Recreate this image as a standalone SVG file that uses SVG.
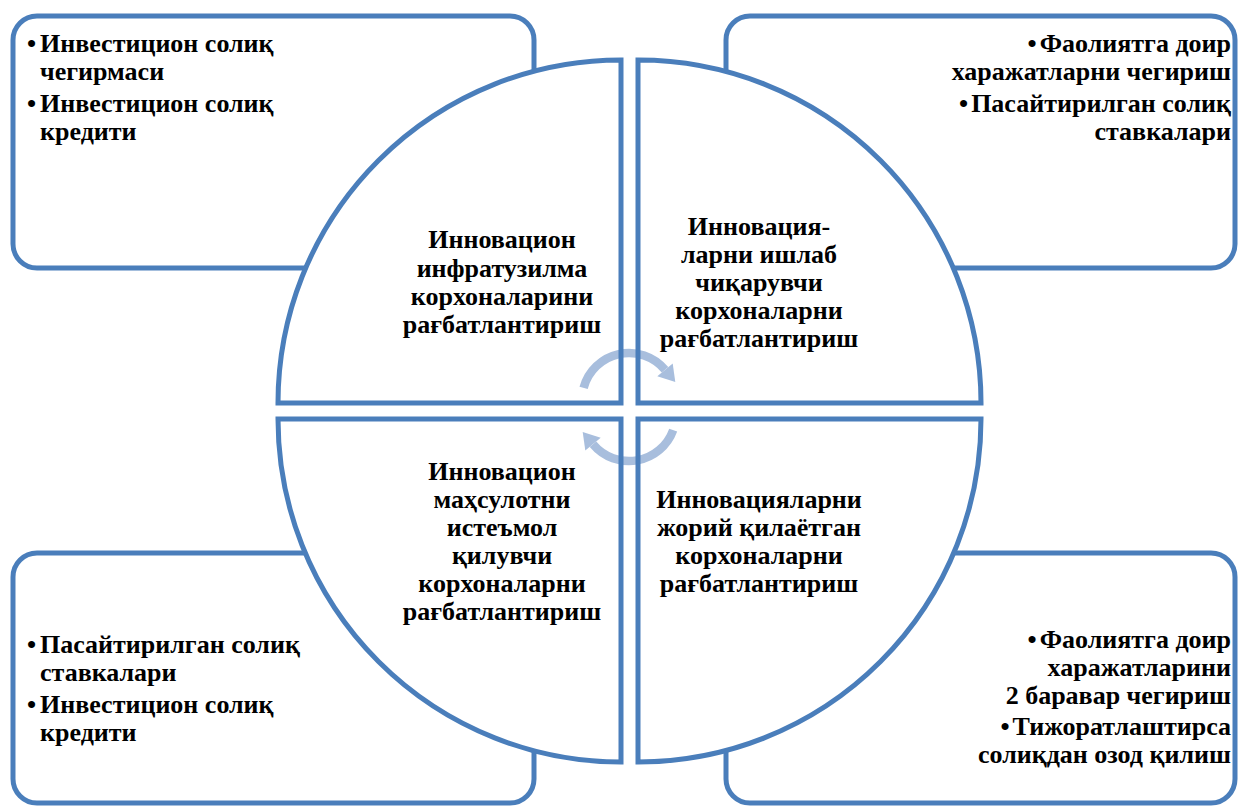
<svg xmlns="http://www.w3.org/2000/svg" width="1238" height="806" viewBox="0 0 1238 806">
<style>
.box{fill:#ffffff;stroke:#4a7ebb;stroke-width:5}
.pie{fill:#ffffff;stroke:none}
.pieline{fill:none;stroke:#4a7ebb;stroke-width:5;stroke-linejoin:miter}
.arc{fill:none;stroke:#a8bedd;stroke-width:8.5}
.head{fill:#a8bedd}
text{font-family:"Liberation Serif","Times New Roman",serif;font-weight:bold;font-size:26px;fill:#000000}
.c{text-anchor:middle}
.r{text-anchor:end}
</style>
<g id="box-tl"><rect class="box" x="13" y="16" width="521" height="252" rx="24"/></g>
<g id="box-tr"><rect class="box" x="726" y="16" width="509" height="252" rx="24"/></g>
<g id="box-bl"><rect class="box" x="13" y="553" width="521" height="250" rx="24"/></g>
<g id="box-br"><rect class="box" x="726" y="553" width="509" height="250" rx="24"/></g>
<g id="pie-fills">
<path class="pie" d="M621,403 H278 A343,343 0 0 1 621,60 Z"/>
<path class="pie" d="M638,403 V60 A343,343 0 0 1 981,403 Z"/>
<path class="pie" d="M638,419 H981 A343,343 0 0 1 638,762 Z"/>
<path class="pie" d="M621,419 V762 A343,343 0 0 1 278,419 Z"/>
</g>
<g id="connectors">
<path class="arc" d="M583.6,387.8 A47,47 0 0 1 665.0,369.8"/>
<polygon class="head" points="672.7,363.4 657.3,376.2 675.3,382.1"/>
<path class="arc" d="M673.2,430.1 A47,47 0 0 1 593.0,444.2"/>
<polygon class="head" points="600.7,437.8 585.3,450.6 582.7,431.9"/>
</g>
<g id="q-tl">
<path class="pieline" d="M621,403 H278 A343,343 0 0 1 621,60 Z"/>
<text class="c" x="502" y="248">Инновацион</text>
<text class="c" x="502" y="277">инфратузилма</text>
<text class="c" x="502" y="305">корхоналарини</text>
<text class="c" x="502" y="333">рағбатлантириш</text>
</g>
<g id="q-tr">
<path class="pieline" d="M638,403 V60 A343,343 0 0 1 981,403 Z"/>
<text class="c" x="759" y="235">Инновация-</text>
<text class="c" x="759" y="263">ларни ишлаб</text>
<text class="c" x="759" y="291">чиқарувчи</text>
<text class="c" x="759" y="319">корхоналарни</text>
<text class="c" x="759" y="347">рағбатлантириш</text>
</g>
<g id="q-br">
<path class="pieline" d="M638,419 H981 A343,343 0 0 1 638,762 Z"/>
<text class="c" x="759" y="508">Инновацияларни</text>
<text class="c" x="759" y="536">жорий қилаётган</text>
<text class="c" x="759" y="564">корхоналарни</text>
<text class="c" x="759" y="592">рағбатлантириш</text>
</g>
<g id="q-bl">
<path class="pieline" d="M621,419 V762 A343,343 0 0 1 278,419 Z"/>
<text class="c" x="502" y="480">Инновацион</text>
<text class="c" x="502" y="508">маҳсулотни</text>
<text class="c" x="502" y="536">истеъмол</text>
<text class="c" x="502" y="564">қилувчи</text>
<text class="c" x="502" y="592">корхоналарни</text>
<text class="c" x="502" y="620">рағбатлантириш</text>
</g>
<g id="text-tl">
<text x="27" y="52">•<tspan x="40">Инвестицион солиқ</tspan></text>
<text x="40" y="80">чегирмаси</text>
<text x="27" y="112">•<tspan x="40">Инвестицион солиқ</tspan></text>
<text x="40" y="140">кредити</text>
</g>
<g id="text-tr">
<text class="r" x="1231" y="52"><tspan>•</tspan><tspan dx="3">Фаолиятга доир</tspan></text>
<text class="r" x="1231" y="80">харажатларни чегириш</text>
<text class="r" x="1231" y="112"><tspan>•</tspan><tspan dx="3">Пасайтирилган солиқ</tspan></text>
<text class="r" x="1231" y="140">ставкалари</text>
</g>
<g id="text-bl">
<text x="27" y="653">•<tspan x="40">Пасайтирилган солиқ</tspan></text>
<text x="40" y="681">ставкалари</text>
<text x="27" y="713">•<tspan x="40">Инвестицион солиқ</tspan></text>
<text x="40" y="741">кредити</text>
</g>
<g id="text-br">
<text class="r" x="1231" y="648"><tspan>•</tspan><tspan dx="3">Фаолиятга доир</tspan></text>
<text class="r" x="1231" y="676">харажатларини</text>
<text class="r" x="1231" y="704">2 баравар чегириш</text>
<text class="r" x="1231" y="735"><tspan>•</tspan><tspan dx="3">Тижоратлаштирса</tspan></text>
<text class="r" x="1231" y="763">солиқдан озод қилиш</text>
</g>
</svg>
